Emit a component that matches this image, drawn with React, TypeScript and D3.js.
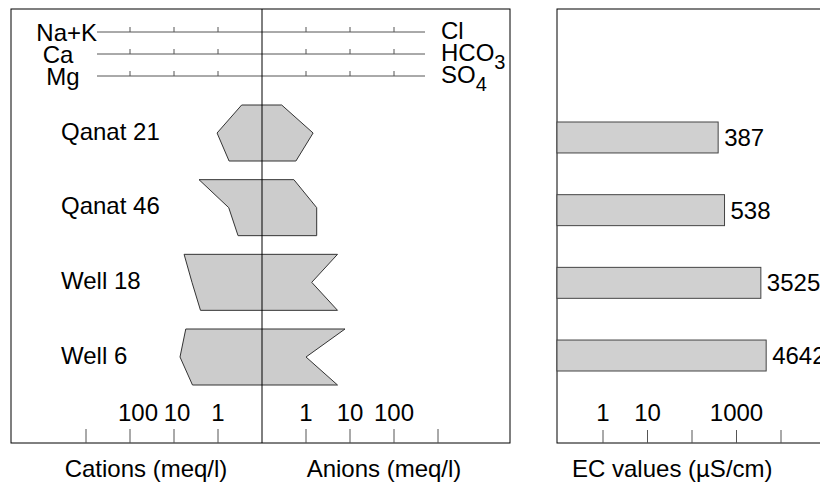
import React from 'react';
import * as d3 from 'd3';

// Stiff diagram data (meq/l)
const samples = ['Qanat 21', 'Qanat 46', 'Well 18', 'Well 6'];
const naK = [0.29, 2.7, 5.9, 5.4];
const ca = [1.05, 0.57, 3.9, 7.3];
const mg = [0.56, 0.35, 2.5, 3.8];
const cl = [0.28, 0.53, 5.2, 7.7];
const hco3 = [1.45, 1.75, 1.35, 1.0];
const so4 = [0.59, 1.75, 5.2, 5.2];

// EC values (µS/cm)
const ecValues = [387, 538, 3525, 4642];

const cationNames = ['Na+K', 'Ca', 'Mg'];
const anionNames = [['Cl', ''], ['HCO', '3'], ['SO', '4']];

const ionTicks = [1, 10, 100, 1000];
const ionTickLabels = ['1', '10', '100', ''];
const ecTicks = [1, 10, 100, 1000, 10000];
const ecTickLabels = ['1', '10', '', '1000', ''];

const font = '"Liberation Sans", Arial, sans-serif';

export default function App() {
  const W = 820;
  const H = 489;
  const cx = 262;
  const frame = { x0: 11, x1: 510, y0: 9, y1: 443 };
  const ecFrame = { x0: 557, x1: 830 };

  const ion = d3.scaleLog().domain([0.1, 1000]).range([0, 176]);
  const rows = d3.scaleBand<string>().domain(samples).range([105, 385]).paddingInner(0.25);
  const headRows = d3.scalePoint<number>().domain([0, 1, 2]).range([32, 76]);

  const ec = d3.scaleLog().domain([0.1, 10000]).range([558.5, 781]);
  const ecRows = d3.scaleBand<string>().domain(samples).range([122, 371]).paddingInner(0.574);

  const polys = samples.map((s, i) => {
    const top = rows(s)!;
    const bw = rows.bandwidth();
    const ys = [top, top + bw / 2, top + bw];
    const left = [naK[i], ca[i], mg[i]].map((v, k) => [cx - ion(v), ys[k]]);
    const right = [cl[i], hco3[i], so4[i]].map((v, k) => [cx + ion(v), ys[k]]);
    const pts = [...left, ...right.reverse()];
    return { s, pts, mid: ys[1] };
  });

  const line = d3.line();
  const nameX = [97, 58, 63];

  return (
    <svg width={W} height={H} style={{ position: 'absolute', left: 0, top: 0, background: '#fff' }} fontFamily={font}>
      {/* left panel */}
      <rect x={frame.x0} y={frame.y0} width={frame.x1 - frame.x0} height={frame.y1 - frame.y0} fill="none" stroke="#000" />

      {/* header ion scales */}
      {[0, 1, 2].map(k => {
        const y = headRows(k)!;
        return (
          <g key={k}>
            <line x1={cx - 165} x2={cx + 163} y1={y} y2={y} stroke="#555" />
            {ionTicks.slice(0, 3).map(t => (
              <g key={t}>
                <line x1={cx - ion(t)} x2={cx - ion(t)} y1={y - 5} y2={y} stroke="#555" />
                <line x1={cx + ion(t)} x2={cx + ion(t)} y1={y - 5} y2={y} stroke="#555" />
              </g>
            ))}
            <text x={nameX[k]} y={y} dy="0.36em" fontSize={24} textAnchor={k === 0 ? 'end' : 'middle'}>
              {cationNames[k]}
            </text>
            <text x={441} y={y} dy="0.3em" fontSize={24}>
              {anionNames[k][0]}
              {anionNames[k][1] && (
                <tspan fontSize={20} dy={8}>{anionNames[k][1]}</tspan>
              )}
            </text>
          </g>
        );
      })}

      {/* Stiff polygons */}
      {polys.map(p => (
        <g key={p.s}>
          <path d={line(p.pts as [number, number][])! + 'Z'} fill="#cccccc" stroke="#333" />
          <text x={61} y={p.mid - 2} dy="0.36em" fontSize={24}>{p.s}</text>
        </g>
      ))}

      <line x1={cx} x2={cx} y1={frame.y0} y2={frame.y1} stroke="#000" />

      {/* bottom ion axis */}
      {ionTicks.map((t, i) => (
        <g key={t}>
          <line x1={cx - ion(t)} x2={cx - ion(t)} y1={429} y2={frame.y1} stroke="#555" />
          <line x1={cx + ion(t)} x2={cx + ion(t)} y1={429} y2={frame.y1} stroke="#555" />
          <text x={cx - ion(t) + (i === 2 ? 8 : i === 1 ? 3 : 0)} y={421} fontSize={24} textAnchor="middle">{ionTickLabels[i]}</text>
          <text x={cx + ion(t)} y={421} fontSize={24} textAnchor="middle">{ionTickLabels[i]}</text>
        </g>
      ))}
      <text x={146} y={477} fontSize={24} textAnchor="middle">Cations (meq/l)</text>
      <text x={384} y={477} fontSize={24} textAnchor="middle">Anions (meq/l)</text>

      {/* EC panel */}
      <rect x={ecFrame.x0} y={frame.y0} width={ecFrame.x1 - ecFrame.x0} height={frame.y1 - frame.y0} fill="none" stroke="#000" />
      {samples.map((s, i) => (
        <g key={s}>
          <rect x={ecFrame.x0} y={ecRows(s)!} width={ec(ecValues[i]) - ecFrame.x0} height={ecRows.bandwidth()} fill="#d0d0d0" stroke="#444" />
          <text x={ec(ecValues[i]) + 6} y={ecRows(s)! + ecRows.bandwidth() / 2} dy="0.36em" fontSize={24}>{ecValues[i]}</text>
        </g>
      ))}
      {ecTicks.map((t, i) => (
        <g key={t}>
          <line x1={ec(t)} x2={ec(t)} y1={430} y2={frame.y1} stroke="#555" />
          <text x={ec(t)} y={421} fontSize={24} textAnchor="middle">{ecTickLabels[i]}</text>
        </g>
      ))}
      <text x={572} y={477} fontSize={24}>EC values (µS/cm)</text>
    </svg>
  );
}
